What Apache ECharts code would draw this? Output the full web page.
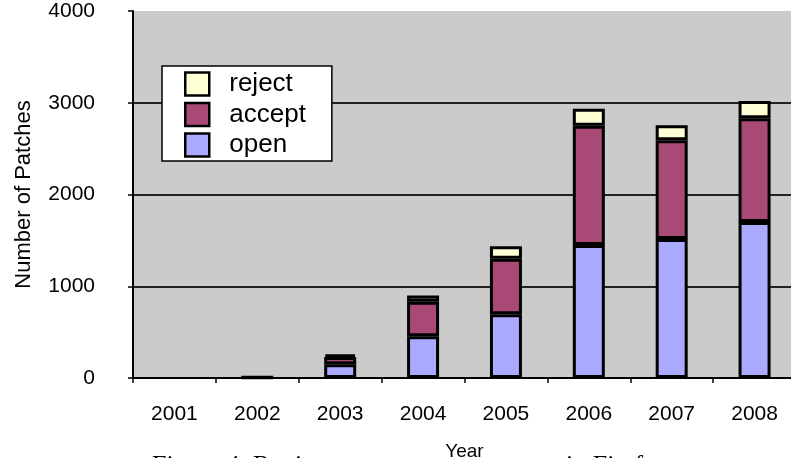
<!DOCTYPE html>
<html>
<head>
<meta charset="utf-8">
<script src="https://cdn.jsdelivr.net/npm/echarts@6/dist/echarts.min.js"></script>
<style>
  html, body { margin: 0; padding: 0; background: #ffffff; }
  #chart { width: 791px; height: 458px; }
</style>
</head>
<body>
<div id="chart"></div>
<script>
// Patch counts per year, stacked by review outcome
const years = ['2001', '2002', '2003', '2004', '2005', '2006', '2007', '2008'];
const openCounts = [0, 0, 150, 455, 695, 1450, 1515, 1700];
const acceptCounts = [0, 6, 80, 375, 605, 1300, 1075, 1130];
const rejectCounts = [0, 2, 25, 70, 135, 185, 165, 190];
const yTicks = [0, 1000, 2000, 3000, 4000];

const FONT = '"Liberation Sans", Arial, Helvetica, sans-serif';
const SERIF = '"Liberation Serif", "Times New Roman", serif';

const chart = echarts.init(document.getElementById('chart'), null, { renderer: 'canvas' });

// empty segments are left out so no outline is drawn for them
function barSeries(name, data, color) {
  return {
    name: name,
    type: 'bar',
    stack: 'patches',
    data: data.map(v => (v === 0 ? '-' : v)),
    barWidth: 32,
    itemStyle: { color: color, borderColor: '#000000', borderWidth: 3 },
    emphasis: { disabled: true },
    animation: false
  };
}

chart.setOption({
  animation: false,
  backgroundColor: '#ffffff',
  grid: {
    left: 133, top: 11, width: 663, height: 367,
    containLabel: false,
    outerBoundsMode: 'none',
    show: true, backgroundColor: '#cbcbcb', borderWidth: 0
  },
  legend: {
    data: ['reject', 'accept', 'open'],
    orient: 'vertical',
    left: 162, top: 66,
    backgroundColor: '#ffffff',
    borderColor: '#000000',
    borderWidth: 1.5,
    borderRadius: 0,
    padding: [5, 26, 3, 22],
    itemWidth: 24, itemHeight: 23, itemGap: 4.5,
    icon: 'rect',
    itemStyle: { borderColor: '#000000', borderWidth: 2.5 },
    textStyle: { fontFamily: FONT, fontSize: 26, lineHeight: 23, color: '#000000', padding: [0, 0, 0, 15] },
    selectedMode: false
  },
  xAxis: {
    type: 'category',
    data: years,
    name: 'Year',
    nameLocation: 'middle',
    nameGap: 64,
    nameTextStyle: { fontFamily: FONT, fontSize: 19, color: '#000000' },
    axisLine: { lineStyle: { color: '#000000', width: 2 } },
    axisTick: { show: true, length: 5, lineStyle: { color: '#000000', width: 1.5 } },
    axisLabel: { fontFamily: FONT, fontSize: 21, color: '#000000', margin: 26 }
  },
  yAxis: {
    type: 'value',
    min: yTicks[0],
    max: yTicks[yTicks.length - 1],
    interval: yTicks[1] - yTicks[0],
    name: 'Number of Patches',
    nameLocation: 'middle',
    nameGap: 98,
    nameTextStyle: { fontFamily: FONT, fontSize: 22, color: '#000000' },
    axisLine: { show: true, lineStyle: { color: '#000000', width: 2 } },
    axisTick: { show: true, length: 5, lineStyle: { color: '#000000', width: 1.5 } },
    axisLabel: { fontFamily: FONT, fontSize: 21, color: '#000000', margin: 38, formatter: v => String(v) },
    splitLine: { show: true, showMinLine: false, showMaxLine: false, lineStyle: { color: '#222222', width: 2 } }
  },
  series: [
    barSeries('open', openCounts, '#aaaaff'),
    barSeries('accept', acceptCounts, '#a94a76'),
    barSeries('reject', rejectCounts, '#ffffd4')
  ],
  graphic: [
    {
      type: 'text', left: 152, top: 453, silent: true,
      style: { text: 'Figure 4: Review', fontFamily: SERIF, fontSize: 26, fill: '#000000' }
    },
    {
      type: 'text', left: 566, top: 453, silent: true,
      style: { text: 'in Firefox', fontFamily: SERIF, fontSize: 26, fill: '#000000' }
    }
  ]
});
</script>
</body>
</html>
